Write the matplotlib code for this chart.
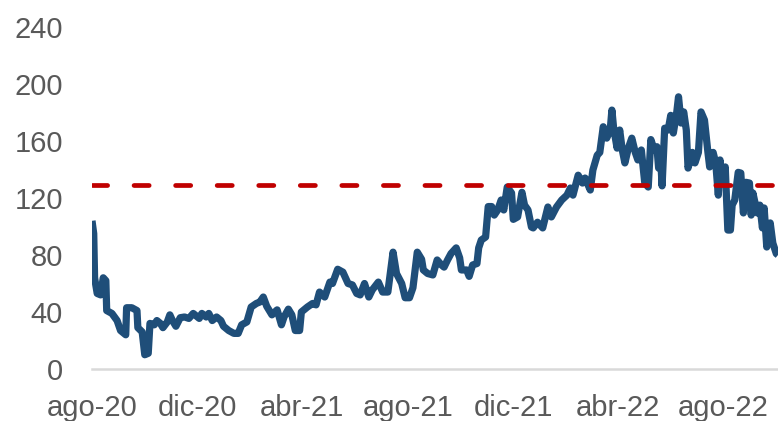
import matplotlib
matplotlib.use("Agg")
import matplotlib.pyplot as plt
import pandas as pd

plt.rcParams['font.family'] = ['Liberation Sans', 'DejaVu Sans']

dates = [
    "2020-08-01", "2020-08-03", "2020-08-04", "2020-08-07", "2020-08-11", "2020-08-14", "2020-08-17",
    "2020-08-18", "2020-08-24", "2020-08-30", "2020-09-03", "2020-09-09", "2020-09-10", "2020-09-16",
    "2020-09-22", "2020-09-23", "2020-09-28", "2020-10-01", "2020-10-05", "2020-10-07", "2020-10-12",
    "2020-10-15", "2020-10-19", "2020-10-22", "2020-10-27", "2020-10-30", "2020-11-02", "2020-11-06",
    "2020-11-11", "2020-11-16", "2020-11-21", "2020-11-26", "2020-12-03", "2020-12-06", "2020-12-11",
    "2020-12-14", "2020-12-18", "2020-12-23", "2020-12-28", "2020-12-31", "2021-01-06", "2021-01-12",
    "2021-01-17", "2021-01-21", "2021-01-27", "2021-02-01", "2021-02-07", "2021-02-11", "2021-02-15",
    "2021-02-19", "2021-02-25", "2021-03-03", "2021-03-08", "2021-03-11", "2021-03-16", "2021-03-20",
    "2021-03-24", "2021-03-29", "2021-03-31", "2021-04-07", "2021-04-13", "2021-04-17", "2021-04-21",
    "2021-04-27", "2021-05-03", "2021-05-06", "2021-05-12", "2021-05-18", "2021-05-24", "2021-05-29",
    "2021-06-03", "2021-06-07", "2021-06-12", "2021-06-17", "2021-06-21", "2021-06-28", "2021-07-03",
    "2021-07-09", "2021-07-15", "2021-07-19", "2021-07-25", "2021-07-29", "2021-08-03", "2021-08-07",
    "2021-08-12", "2021-08-17", "2021-08-19", "2021-08-24", "2021-08-30", "2021-09-04", "2021-09-09",
    "2021-09-12", "2021-09-16", "2021-09-20", "2021-09-26", "2021-09-30", "2021-10-02", "2021-10-08",
    "2021-10-11", "2021-10-15", "2021-10-20", "2021-10-22", "2021-10-25", "2021-10-30", "2021-11-02",
    "2021-11-06", "2021-11-09", "2021-11-13", "2021-11-17", "2021-11-20", "2021-11-24", "2021-11-29",
    "2021-12-01", "2021-12-06", "2021-12-11", "2021-12-14", "2021-12-18", "2021-12-22", "2021-12-24",
    "2021-12-29", "2022-01-04", "2022-01-10", "2022-01-14", "2022-01-20", "2022-01-26", "2022-02-01",
    "2022-02-05", "2022-02-08", "2022-02-14", "2022-02-19", "2022-02-22", "2022-02-28", "2022-03-03",
    "2022-03-08", "2022-03-11", "2022-03-15", "2022-03-19", "2022-03-23", "2022-03-25", "2022-03-27",
    "2022-03-31", "2022-04-03", "2022-04-06", "2022-04-09", "2022-04-13", "2022-04-17", "2022-04-21",
    "2022-04-24", "2022-04-28", "2022-05-02", "2022-05-06", "2022-05-09", "2022-05-13", "2022-05-16",
    "2022-05-18", "2022-05-20", "2022-05-22", "2022-05-25", "2022-05-29", "2022-06-01", "2022-06-04",
    "2022-06-08", "2022-06-10", "2022-06-13", "2022-06-16", "2022-06-19", "2022-06-21", "2022-06-26",
    "2022-06-29", "2022-07-03", "2022-07-06", "2022-07-10", "2022-07-14", "2022-07-16", "2022-07-20",
    "2022-07-23", "2022-07-26", "2022-07-28", "2022-07-30", "2022-08-03", "2022-08-06", "2022-08-09",
    "2022-08-11", "2022-08-14", "2022-08-18", "2022-08-21", "2022-08-24", "2022-08-27", "2022-08-31",
    "2022-09-02", "2022-09-04", "2022-09-09", "2022-09-12", "2022-09-15", "2022-09-17", "2022-09-20",
    "2022-09-24", "2022-09-27", "2022-10-01", "2022-10-03",
]

values = [
    104, 95, 64, 53, 52, 64, 62,
    41, 39, 34, 27, 24, 43, 43,
    41, 29, 26, 10, 11, 32, 31,
    34, 32, 29, 33, 38, 34, 30,
    36, 36.5, 35.5, 39, 35.5, 39, 36.5,
    39, 34, 36.5, 34, 30, 27, 25,
    25, 31, 33, 43.5, 46, 47, 50.5,
    44, 38, 41.5, 31, 36.5, 42, 38,
    27, 27, 40, 43.5, 46, 45, 54,
    50.5, 61, 60, 70, 68, 60, 59,
    53, 52, 60, 50.5, 55.5, 61, 54,
    54, 82, 67, 60, 50, 50, 57,
    82, 77, 69.5, 67, 66, 76.5, 73,
    71.5, 76.5, 81, 85, 78, 69.5, 69.5,
    65, 73, 74, 85, 90.5, 92.6, 114,
    114, 108, 111.6, 118.6, 111.6, 127.7, 123.5,
    105, 106.7, 124, 115, 111.6, 99.6, 99,
    103, 99, 113.7, 106.7, 113.7, 118.6, 122,
    127, 122, 136, 130.5, 134, 125.6, 139.6,
    150, 152, 170, 162, 167.7, 181.7, 169,
    155, 167.7, 153.7, 144.6, 155, 162, 152,
    146.7, 153.7, 130.5, 127.7, 161, 153.7, 156,
    141, 152, 128.5, 169, 167.7, 178, 165.6,
    180.4, 191, 172.6, 180.4, 167.7, 141, 152,
    144.6, 152, 180.4, 174.7, 152, 141.8, 152,
    144.6, 122, 146.7, 132.6, 141.8, 97.5, 97.5,
    115, 118.6, 138, 137.5, 109.5, 131, 130.5,
    108, 123.5, 109.5, 115, 99, 113, 85.6,
    102.5, 88.4, 81, 80,
]

reference_level = 129
y_ticks = [0, 40, 80, 120, 160, 200, 240]
x_tick_dates = ["2020-08-01", "2020-12-01", "2021-04-01", "2021-08-01",
                "2021-12-01", "2022-04-01", "2022-08-01"]
x_tick_labels = ["ago-20", "dic-20", "abr-21", "ago-21", "dic-21", "abr-22", "ago-22"]

x = pd.to_datetime(dates)

fig = plt.figure(figsize=(7.78, 4.21), dpi=100)
ax = fig.add_axes([92 / 778, (421 - 369) / 421, 686 / 778, 342 / 421])

ax.plot(x, values, color='#1f4e79', lw=5.2, solid_joinstyle='round', solid_capstyle='butt', zorder=2)
ax.axhline(reference_level, color='#c00000', lw=3.4, dashes=(3.2, 5.6),
           dash_capstyle='round', zorder=3)

ax.set_ylim(0, 240)
ax.set_xlim(pd.Timestamp("2020-08-01"), pd.Timestamp("2022-10-03"))
ax.set_yticks(y_ticks)
ax.set_xticks(pd.to_datetime(x_tick_dates))
ax.set_xticklabels(x_tick_labels)

for s in ['top', 'right', 'left']:
    ax.spines[s].set_visible(False)
ax.spines['bottom'].set_color('#d9d9d9')
ax.spines['bottom'].set_linewidth(1.8)
ax.spines['bottom'].set_zorder(1)

ax.tick_params(axis='y', length=0, pad=21, labelsize=21, labelcolor='#595959')
ax.tick_params(axis='x', length=0, pad=18, labelsize=21, labelcolor='#595959')

fig.savefig("out.png", dpi=100)
